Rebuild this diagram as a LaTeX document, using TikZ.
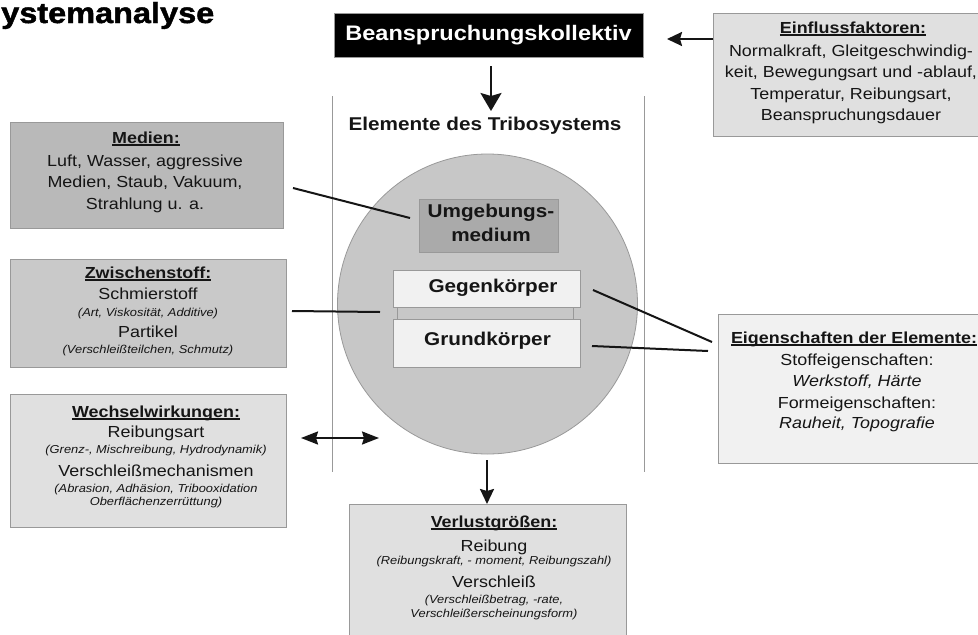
\documentclass[tikz,border=0pt]{standalone}
\usepackage{fontspec}
\setmainfont[FakeStretch=1.12]{Liberation Sans}
\newfontfamily\titlefont[FakeStretch=1.12, BoldFeatures={FakeBold=1.6}]{Liberation Sans}
\usetikzlibrary{arrows.meta}
\newcommand\ulbox[1]{\setbox0\hbox{#1}\rlap{\rule[-2.6pt]{\wd0}{1.3pt}}\box0}
\definecolor{bordergray}{HTML}{999999}
\definecolor{medfill}{HTML}{B9B9B9}
\definecolor{zwfill}{HTML}{C9C9C9}
\definecolor{lightfill}{HTML}{E0E0E0}
\definecolor{palefill}{HTML}{F1F1F1}
\definecolor{circfill}{HTML}{C7C7C7}
\definecolor{umgfill}{HTML}{AAAAAA}
\definecolor{inkcol}{HTML}{151515}
\begin{document}
\begin{tikzpicture}[x=1pt,y=-1pt,
  box/.style={draw=bordergray, line width=0.8pt, anchor=north west, inner sep=0pt},
  txt/.style={anchor=base, inner sep=0pt, text=inkcol, font=\fontsize{16}{19}\selectfont},
  ttl/.style={anchor=base, inner sep=0pt, text=inkcol, font=\fontsize{16}{19}\selectfont\bfseries},
  sml/.style={anchor=base, inner sep=0pt, text=inkcol, font=\fontsize{11.5}{14}\selectfont\itshape},
  inner/.style={anchor=base, inner sep=0pt, text=inkcol, font=\fontsize{18.5}{22}\selectfont\bfseries},
  conn/.style={line width=2pt, draw=inkcol},
  arr/.style={line width=2.2pt, draw=inkcol, -{Stealth[length=15pt,width=14pt,inset=2pt]}},
  darr/.style={line width=2.2pt, draw=inkcol, {Stealth[length=17pt,width=13pt,inset=2pt]}-{Stealth[length=17pt,width=13pt,inset=2pt]}},
  vline/.style={line width=0.6pt, draw=bordergray}
]
\useasboundingbox (0,0) rectangle (978,635);
\clip (0,0) rectangle (978,635);
\fill[white] (0,0) rectangle (978,635);

% title
\node[anchor=base west, inner sep=0pt, font=\fontsize{29}{34}\selectfont\titlefont\bfseries] (title) at (1,23) {ystemanalyse};

% Beanspruchungskollektiv
\node[box, draw=bordergray, fill=black, minimum width=309pt, minimum height=44pt] (beans) at (334,13) {};
\node[anchor=base, inner sep=0pt, text=white, font=\fontsize{21}{25}\selectfont\bfseries] (beanstxt) at (488.5,40) {Beanspruchungskollektiv};

% vertical frame lines
\coordinate (vl1) at (332,96); \coordinate (vl2) at (332,472);
\coordinate (vr1) at (644,96); \coordinate (vr2) at (644,472);
\draw[vline] (vl1) -- (vl2);
\draw[vline] (vr1) -- (vr2);

\node[inner] (elem) at (485,130) {Elemente des Tribosystems};

% Einflussfaktoren
\node[box, fill=lightfill, minimum width=280pt, minimum height=123pt] (einfl) at (713,13) {};
\node[ttl] (e0) at (853,33) {\ulbox{Einflussfaktoren:}};
\node[txt] (e1) at (851,56) {Normalkraft, Gleitgeschwindig-};
\node[txt] (e2) at (851,77) {keit, Bewegungsart und -ablauf,};
\node[txt] (e3) at (851,99) {Temperatur, Reibungsart,};
\node[txt] (e4) at (851,120) {Beanspruchungsdauer};

% Medien
\node[box, fill=medfill, minimum width=273pt, minimum height=106pt] (medien) at (10,122) {};
\node[ttl] (m0) at (146,143) {\ulbox{Medien:}};
\node[txt] (m1) at (145,166) {Luft, Wasser, aggressive};
\node[txt] (m2) at (145,187) {Medien, Staub, Vakuum,};
\node[txt] (m3) at (145,209) {Strahlung u. a.};

% Zwischenstoff
\node[box, fill=zwfill, minimum width=276pt, minimum height=108pt] (zwisch) at (10,259) {};
\node[ttl] (z0) at (148,278) {\ulbox{Zwischenstoff:}};
\node[txt] (z1) at (148,299) {Schmierstoff};
\node[sml] (z2) at (148,316) {(Art, Viskosität, Additive)};
\node[txt] (z3) at (148,337) {Partikel};
\node[sml] (z4) at (148,353) {(Verschleißteilchen, Schmutz)};

% Wechselwirkungen
\node[box, fill=lightfill, minimum width=276pt, minimum height=133pt] (wechsel) at (10,394) {};
\node[ttl] (w0) at (156,417) {\ulbox{Wechselwirkungen:}};
\node[txt] (w1) at (156,437) {Reibungsart};
\node[sml] (w2) at (156,453) {(Grenz-, Mischreibung, Hydrodynamik)};
\node[txt] (w3) at (156,476) {Verschleißmechanismen};
\node[sml] (w4) at (156,492) {(Abrasion, Adhäsion, Tribooxidation};
\node[sml] (w5) at (156,505) {Oberflächenzerrüttung)};

% circle with elements
\node[circle, draw=bordergray, line width=0.8pt, fill=circfill, minimum size=300pt, inner sep=0pt] (circ) at (487.5,304) {};
\node[box, fill=umgfill, minimum width=139pt, minimum height=53pt] (umg) at (419,199) {};
\node[inner] (u1) at (491,217) {Umgebungs-};
\node[inner] (u2) at (491,241) {medium};
\node[box, fill=circfill, minimum width=176pt, minimum height=13pt] (strip) at (397,307) {};
\node[box, fill=palefill, minimum width=187pt, minimum height=37pt] (gegen) at (393,270) {};
\node[inner] (g1) at (493,292) {Gegenkörper};
\node[box, fill=palefill, minimum width=187pt, minimum height=48pt] (grund) at (393,319) {};
\node[inner] (g2) at (487.5,345) {Grundkörper};

% Eigenschaften der Elemente
\node[box, fill=palefill, minimum width=278pt, minimum height=149pt] (eigen) at (718,314) {};
\node[ttl] (p0) at (854,343) {\ulbox{Eigenschaften der Elemente:}};
\node[txt] (p1) at (857,365) {Stoffeigenschaften:};
\node[txt, font=\fontsize{16}{19}\selectfont\itshape] (p2) at (857,386) {Werkstoff, Härte};
\node[txt] (p3) at (857,408) {Formeigenschaften:};
\node[txt, font=\fontsize{16}{19}\selectfont\itshape] (p4) at (857,428) {Rauheit, Topografie};

% Verlustgroessen
\node[box, fill=lightfill, minimum width=277pt, minimum height=150pt] (verlust) at (349,504) {};
\node[ttl] (v0) at (494,527) {\ulbox{Verlustgrößen:}};
\node[txt] (v1) at (494,551) {Reibung};
\node[sml] (v2) at (494,564) {(Reibungskraft, - moment, Reibungszahl)};
\node[txt] (v3) at (494,587) {Verschleiß};
\node[sml] (v4) at (494,603) {(Verschleißbetrag, -rate,};
\node[sml] (v5) at (494,617) {Verschleißerscheinungsform)};

% connector end points
\coordinate (a1s) at (491,66);  \coordinate (a1e) at (491,111);
\coordinate (a2s) at (713,39);  \coordinate (a2e) at (667,39);
\coordinate (c1s) at (293,188); \coordinate (c1e) at (410,218);
\coordinate (c2s) at (292,311); \coordinate (c2e) at (380,312);
\coordinate (d1s) at (301,438); \coordinate (d1e) at (379,438);
\coordinate (c3s) at (593,290); \coordinate (c3e) at (712,342);
\coordinate (c4s) at (592,346); \coordinate (c4e) at (708,351);
\coordinate (a3s) at (487,460); \coordinate (a3e) at (487,504);

\draw[arr, -{Stealth[length=18pt,width=21pt,inset=3pt]}] (a1s) -- (a1e);
\draw[arr] (einfl.west |- a2s) -- (a2e);
\draw[conn] (c1s) -- (c1e);
\draw[conn] (c2s) -- (c2e);
\draw[darr] (d1s) -- (d1e);
\draw[conn] (c3s) -- (c3e);
\draw[conn] (c4s) -- (c4e);
\draw[arr] (a3s) -- (a3e);
\end{tikzpicture}
\end{document}
